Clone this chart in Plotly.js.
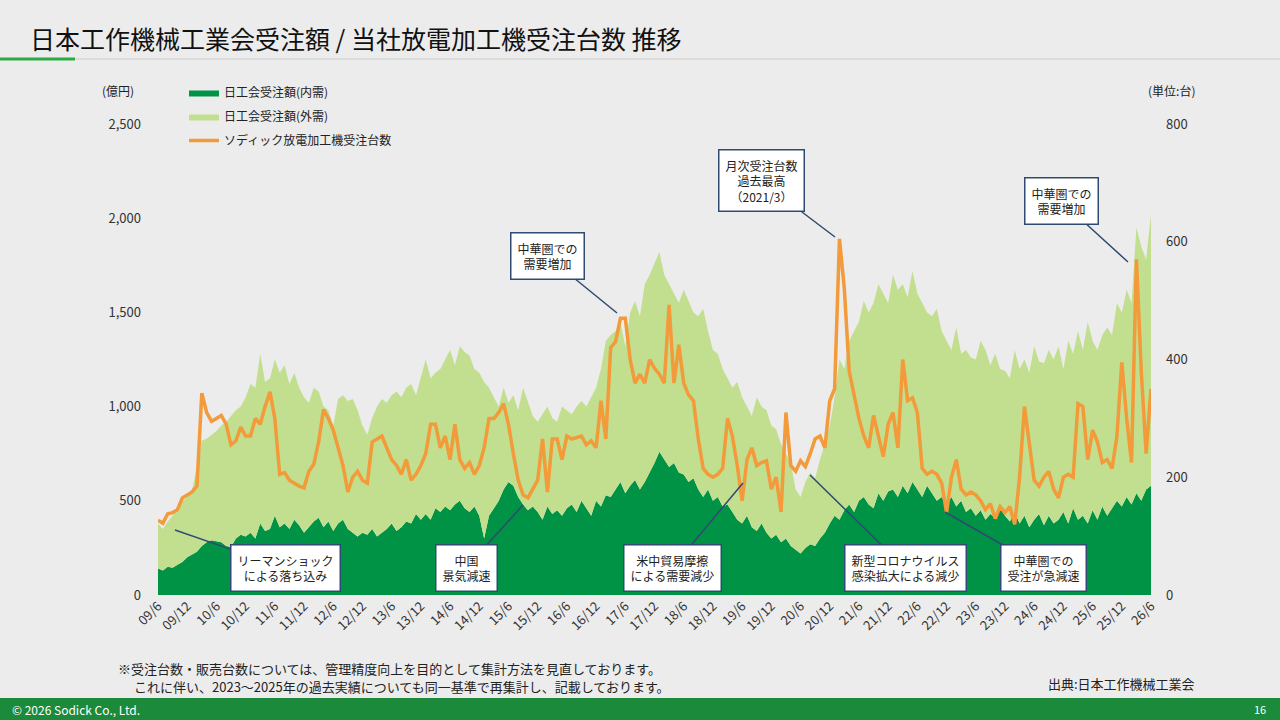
<!DOCTYPE html>
<html>
<head>
<meta charset="utf-8">
<script src="https://cdn.plot.ly/plotly-3.0.1.min.js"></script>
<style>
  html, body { margin: 0; padding: 0; background: #ececec; }
  #chart { width: 1280px; height: 720px; }
</style>
</head>
<body>
<div id="chart"></div>
<script>
// monthly data, 2009/6 .. 2026/6
const domestic = [
  140,130,150,145,160,175,200,
  215,230,260,280,290,285,280,260,255,300,320,310,
  330,300,380,340,350,420,360,380,350,400,370,330,
  360,390,410,360,390,340,380,400,350,330,310,330,
  320,350,310,330,350,380,340,360,390,380,430,400,
  430,400,460,440,470,450,480,500,460,440,470,420,
  300,420,460,500,560,600,580,520,480,450,470,440,
  400,470,430,450,420,460,480,440,500,460,420,500,
  470,530,520,560,600,540,580,610,560,600,650,700,
  760,720,680,700,650,640,600,620,560,520,560,500,
  520,470,480,440,400,380,420,360,340,380,330,300,
  320,280,300,260,240,220,250,270,260,300,330,380,
  420,400,450,480,440,500,520,480,460,540,500,550,
  560,520,580,540,600,560,520,580,540,500,520,480,
  520,470,500,440,460,420,450,400,430,410,460,420,
  390,440,380,420,360,400,430,370,420,380,400,440,
  380,460,400,420,380,450,400,470,420,460,500,470,
  520,480,540,500,560,580
];
// top of the stack (内需 + 外需)
const total = [
  380,350,390,420,470,500,520,
  560,680,820,830,850,870,900,920,950,980,1000,1050,
  1120,1100,1280,1130,1150,1250,1180,1220,1120,1180,1100,1050,
  1020,1100,1080,1000,980,900,1040,1060,1030,1040,980,900,
  850,940,1000,1040,1020,1060,1080,1050,1100,1120,1060,1150,
  1250,1150,1180,1200,1250,1300,1220,1320,1290,1270,1200,1180,
  1130,1100,1050,1000,1100,1020,1060,980,1100,1020,950,920,
  960,1000,940,920,1000,980,960,1000,1030,1000,1050,1100,
  1200,1350,1380,1400,1450,1320,1500,1560,1480,1650,1700,1760,
  1820,1700,1650,1600,1550,1620,1560,1500,1480,1520,1400,1300,
  1280,1200,1150,1100,1130,1050,1000,950,1050,1000,980,900,
  880,800,750,700,560,520,600,650,620,720,800,900,
  1050,1250,1200,1350,1400,1450,1560,1500,1550,1650,1600,1550,
  1700,1620,1650,1580,1720,1600,1550,1500,1480,1520,1400,1350,
  1300,1420,1280,1300,1260,1250,1350,1300,1220,1280,1200,1190,
  1150,1300,1200,1250,1180,1320,1240,1230,1300,1250,1320,1200,
  1350,1280,1400,1300,1450,1350,1300,1380,1420,1380,1550,1500,
  1620,1550,1950,1850,1780,2020
];
const units = [
  127,122,138,140,145,165,170,
  175,185,343,310,295,300,305,290,255,262,285,270,
  270,300,290,320,345,300,205,208,195,190,185,182,
  210,222,260,315,300,280,250,220,175,200,210,195,
  190,260,265,270,250,230,220,205,230,195,205,220,
  240,290,290,250,270,230,290,230,215,225,205,220,
  250,300,300,310,325,290,240,195,170,165,180,195,
  265,175,265,265,230,270,265,268,270,255,262,250,
  330,265,420,430,470,470,400,360,375,360,400,385,
  375,360,493,360,425,360,340,330,265,215,205,200,
  205,215,300,270,220,160,230,250,220,225,228,180,
  200,141,310,220,210,228,218,240,265,270,250,330,
  350,605,520,380,340,300,270,250,305,270,235,290,
  310,250,400,330,335,310,215,205,210,205,190,140,
  200,230,180,170,175,170,160,145,155,130,150,140,
  150,120,200,320,260,195,185,200,210,180,165,200,
  205,200,325,320,230,280,260,225,230,215,270,395,
  300,225,570,380,240,350
];
const tickLabels = ['09/6','09/12','10/6','10/12','11/6','11/12','12/6','12/12','13/6','13/12',
  '14/6','14/12','15/6','15/12','16/6','16/12','17/6','17/12','18/6','18/12','19/6','19/12',
  '20/6','20/12','21/6','21/12','22/6','22/12','23/6','23/12','24/6','24/12','25/6','25/12','26/6'];

const idx = domestic.map((_, i) => i);
const tickVals = tickLabels.map((_, i) => i * 6);

const FONT = '"Noto Sans CJK JP", "Noto Sans", sans-serif';
const L = 158, R = 1151, T = 124, B = 595;
const px = x => (x - L) / (R - L);
const py = y => (B - y) / (B - T);

const traces = [
  { x: idx, y: domestic, name: '日工会受注額(内需)', type: 'scatter', mode: 'lines', legendgroup: 'a',
    line: { width: 0, color: '#009245' }, fill: 'tozeroy', fillcolor: '#009245' },
  { x: idx, y: total, name: '日工会受注額(外需)', type: 'scatter', mode: 'lines', legendgroup: 'b',
    line: { width: 0, color: '#c2df8f' }, fill: 'tonexty', fillcolor: '#c2df8f' },
  { x: idx, y: units, name: 'ソディック放電加工機受注台数', type: 'scatter', mode: 'lines', yaxis: 'y2',
    legendgroup: 'c', line: { width: 3.5, color: '#f39a3a' } }
];

function callout(text, bx, by, tx, ty) {
  return {
    xref: 'paper', yref: 'paper', x: px(tx), y: py(ty), ax: bx - tx, ay: by - ty,
    text: text, showarrow: true, arrowhead: 0, arrowwidth: 1.5, arrowcolor: '#2f4a73',
    bgcolor: '#ffffff', bordercolor: '#2f4a73', borderwidth: 1.5, borderpad: 6,
    font: { family: FONT, size: 12, color: '#222' }
  };
}
function label(text, x, y, anchor, size, color) {
  return { xref: 'paper', yref: 'paper', x: px(x), y: py(y), text: text, showarrow: false,
    xanchor: anchor, yanchor: 'middle', align: 'left',
    font: { family: FONT, size: size, color: color || '#222' } };
}

const layout = {
  width: 1280, height: 720,
  paper_bgcolor: '#ececec', plot_bgcolor: 'rgba(0,0,0,0)',
  margin: { l: L, r: 1280 - R, t: T, b: 720 - B },
  showlegend: true,
  legend: { x: px(184), y: py(78), xanchor: 'left', yanchor: 'top', bgcolor: 'rgba(0,0,0,0)',
    traceorder: 'grouped', font: { family: FONT, size: 12, color: '#222' },
    tracegroupgap: 5, itemwidth: 30 },
  xaxis: { range: [0, 204], tickvals: tickVals, ticktext: tickLabels, tickangle: -45,
    showgrid: false, zeroline: false, showline: false, ticks: '',
    tickfont: { family: FONT, size: 13, color: '#333' } },
  yaxis: { range: [0, 2500], dtick: 500, tickformat: ',', showgrid: false, zeroline: false,
    ticks: '', ticklabelstandoff: 16, tickfont: { family: FONT, size: 13, color: '#333' } },
  yaxis2: { range: [0, 800], dtick: 200, overlaying: 'y', side: 'right', showgrid: false,
    zeroline: false, ticks: '', ticklabelstandoff: 14, tickfont: { family: FONT, size: 13, color: '#333' } },
  shapes: [
    { type: 'line', xref: 'paper', yref: 'paper', x0: px(75), x1: px(1280), y0: py(59), y1: py(59),
      line: { color: '#dcdcdc', width: 2 } },
    { type: 'line', xref: 'paper', yref: 'paper', x0: px(0), x1: px(75), y0: py(59), y1: py(59),
      line: { color: '#2ca844', width: 3 } },
    { type: 'rect', xref: 'paper', yref: 'paper', x0: px(0), x1: px(1280), y0: py(720), y1: py(698),
      line: { width: 0 }, fillcolor: '#1b8a3a' }
  ],
  annotations: [
    label('日本工作機械工業会受注額&nbsp;/&nbsp;当社放電加工機受注台数&nbsp;推移', 28, 38, 'left', 25, '#111'),
    label('(億円)', 100, 90, 'left', 12),
    label('(単位:台)', 1197, 90, 'right', 12),
    callout('リーマンショック<br>による落ち込み', 285, 568, 175, 530),
    callout('中国<br>景気減速', 466, 568, 523, 505),
    callout('中華圏での<br>需要増加', 547, 256, 617, 313),
    callout('米中貿易摩擦<br>による需要減少', 672, 568, 743, 483),
    callout('月次受注台数<br>過去最高<br>（2021/3）', 761, 181, 835, 237),
    callout('新型コロナウイルス<br>感染拡大による減少', 905, 568, 810, 475),
    callout('中華圏での<br>受注が急減速', 1043, 568, 945, 512),
    callout('中華圏での<br>需要増加', 1061, 201, 1128, 262),
    label('※受注台数・販売台数については、管理精度向上を目的として集計方法を見直しております。', 116, 668, 'left', 13),
    label('これに伴い、2023～2025年の過去実績についても同一基準で再集計し、記載しております。', 132, 686, 'left', 13),
    label('出典:日本工作機械工業会', 1197, 683, 'right', 13),
    label('© 2026 Sodick Co., Ltd.', 10, 709, 'left', 12, '#ffffff'),
    label('16', 1268, 709, 'right', 11, '#ffffff')
  ]
};

Plotly.newPlot('chart', traces, layout, { staticPlot: true });
</script>
</body>
</html>
